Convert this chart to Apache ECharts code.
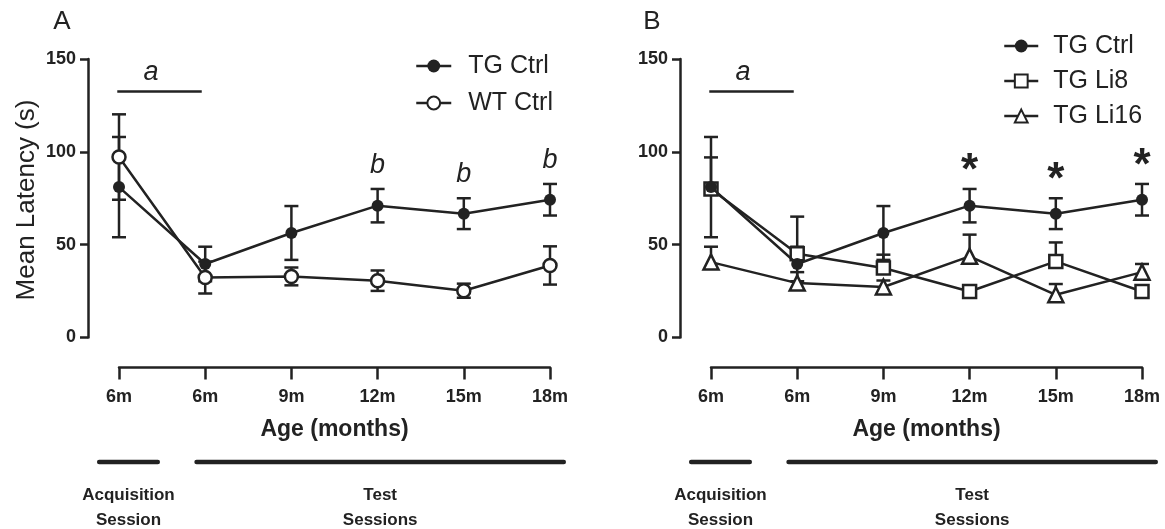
<!DOCTYPE html>
<html>
<head>
<meta charset="utf-8">
<script src="https://cdn.jsdelivr.net/npm/echarts@6/dist/echarts.min.js"></script>
<style>
  html, body { margin: 0; padding: 0; background: #ffffff; }
  #chart { width: 1165px; height: 529px; }
</style>
</head>
<body>
<div id="chart"></div>
<script>
// Age at testing (category index 0 = acquisition session, 1..5 = test sessions)
const ageLabels = ['6m', '6m', '9m', '12m', '15m', '18m'];
const yTicks = [0, 50, 100, 150];

// Mean latency (s) and SEM per group
const tgCtrl     = [81.0, 39.6, 56.3, 71.0, 66.7, 74.2];
const tgCtrlErr  = [27.0, 9.3, 14.5, 9.0, 8.3, 8.5];
const wtCtrl     = [97.2, 32.3, 32.9, 30.6, 25.2, 38.8];
const wtCtrlErr  = [23.0, 8.6, 4.8, 5.5, 3.8, 10.3];
const tgLi8      = [80.0, 45.1, 37.4, 24.8, 41.0, 24.8];
const tgLi8Err   = [17.0, 20.0, 7.2, 2.0, 10.2, 2.0];
const tgLi16     = [40.6, 29.3, 27.2, 43.7, 23.0, 35.2];
const tgLi16Err  = [8.3, 5.9, 3.5, 11.7, 5.8, 4.4];

// Significance marks over TG Ctrl
const markedAges = [3, 4, 5];

const INK = '#222222';
const FONT = "'Liberation Sans', Arial, Helvetica, sans-serif";

const chart = echarts.init(document.getElementById('chart'), null, { renderer: 'canvas' });

function grid(left) {
  return { left: left, width: 431, top: 59, height: 278.5, containLabel: false };
}

function xAxis(gridIndex) {
  return {
    type: 'value', gridIndex, min: 0, max: ageLabels.length - 1, interval: 1,
    position: 'bottom', offset: 30,
    axisLine: { show: true, onZero: false, lineStyle: { color: INK, width: 2.5 } },
    axisTick: { show: true, inside: false, length: 12, lineStyle: { color: INK, width: 2.5 } },
    axisLabel: {
      show: true, margin: 21, color: INK, fontFamily: FONT, fontWeight: 'bold', fontSize: 18,
      formatter: v => ageLabels[v] || ''
    },
    splitLine: { show: false },
    name: 'Age (months)', nameLocation: 'middle', nameGap: 51,
    nameTextStyle: { color: INK, fontFamily: FONT, fontWeight: 'bold', fontSize: 23 }
  };
}

function yAxis(gridIndex) {
  return {
    type: 'value', gridIndex, min: yTicks[0], max: yTicks[yTicks.length - 1], interval: 50,
    position: 'left', offset: 31,
    axisLine: { show: true, onZero: false, lineStyle: { color: INK, width: 2.5 } },
    axisTick: { show: true, inside: false, length: 8, lineStyle: { color: INK, width: 2.5 } },
    axisLabel: { show: true, margin: 12, color: INK, fontFamily: FONT, fontWeight: 'bold', fontSize: 18 },
    splitLine: { show: false }
  };
}

// Vertical SEM whiskers with caps; one-sided bars only extend upward
function errorBars(means, errs, twoSided, axisIndex) {
  return {
    type: 'custom', xAxisIndex: axisIndex, yAxisIndex: axisIndex, silent: true, z: 2,
    data: means.map((m, i) => [i, twoSided ? m - errs[i] : m, m + errs[i], twoSided ? 1 : 0]),
    renderItem(params, api) {
      const x = api.value(0);
      const top = api.coord([x, api.value(2)]);
      const bot = api.coord([x, api.value(1)]);
      const cap = 7;
      const st = { stroke: INK, lineWidth: 2.5 };
      const children = [
        { type: 'line', shape: { x1: top[0], y1: top[1], x2: bot[0], y2: bot[1] }, style: st },
        { type: 'line', shape: { x1: top[0] - cap, y1: top[1], x2: top[0] + cap, y2: top[1] }, style: st }
      ];
      if (api.value(3)) {
        children.push({ type: 'line', shape: { x1: bot[0] - cap, y1: bot[1], x2: bot[0] + cap, y2: bot[1] }, style: st });
      }
      return { type: 'group', children };
    }
  };
}

function lineSeries(name, values, symbol, size, open, axisIndex, z) {
  return {
    type: 'line', name, xAxisIndex: axisIndex, yAxisIndex: axisIndex, z,
    data: values.map((v, i) => [i, v]),
    symbol, symbolSize: size, showSymbol: true,
    lineStyle: { color: INK, width: 2.5 },
    itemStyle: open
      ? { color: '#ffffff', borderColor: INK, borderWidth: 2.5 }
      : { color: INK, borderColor: INK, borderWidth: 0 },
    emphasis: { disabled: true }
  };
}

const plainItem = { opacity: 1, color: INK };

// Horizontal bar with letter over the acquisition-to-first-test interval
function acquisitionMark(axisIndex) {
  return [
    {
      type: 'line', xAxisIndex: axisIndex, yAxisIndex: axisIndex, silent: true, z: 1,
      data: [[-0.02, 132.5], [0.96, 132.5]], symbol: 'none',
      lineStyle: { color: INK, width: 2.5 }
    },
    {
      type: 'scatter', xAxisIndex: axisIndex, yAxisIndex: axisIndex, silent: true,
      data: [[0.37, 132.5]], symbolSize: 0, itemStyle: plainItem,
      label: {
        show: true, position: 'top', distance: 6, formatter: 'a', opacity: 1,
        color: INK, fontFamily: FONT, fontStyle: 'italic', fontSize: 27, lineHeight: 27
      }
    }
  ];
}

function sigLabels(text, axisIndex, style) {
  return {
    type: 'scatter', xAxisIndex: axisIndex, yAxisIndex: axisIndex, silent: true,
    data: markedAges.map(i => [i, tgCtrl[i] + tgCtrlErr[i]]), symbolSize: 0, itemStyle: plainItem,
    label: Object.assign({ show: true, position: 'top', formatter: text, color: INK, opacity: 1, fontFamily: FONT }, style)
  };
}

const legendText = { color: INK, fontFamily: FONT, fontSize: 25, lineHeight: 26 };
const legendLine = { color: INK, width: 2.5, inactiveWidth: 2.5 };

const option = {
  animation: false,
  backgroundColor: '#ffffff',
  grid: [grid(119), grid(711)],
  xAxis: [xAxis(0), xAxis(1)],
  yAxis: [yAxis(0), yAxis(1)],
  legend: [
    {
      data: ['TG Ctrl', 'WT Ctrl'], orient: 'vertical', left: 410, top: 48,
      itemWidth: 35, itemHeight: 16, itemGap: 11, selectedMode: false,
      lineStyle: legendLine,
      textStyle: Object.assign({ padding: [0, 0, 0, 12] }, legendText)
    },
    {
      data: ['TG Ctrl', 'TG Li8', 'TG Li16'], orient: 'vertical', left: 998, top: 28,
      itemWidth: 34, itemHeight: 16, itemGap: 9, selectedMode: false,
      lineStyle: legendLine,
      textStyle: Object.assign({ padding: [0, 0, 0, 10] }, legendText)
    }
  ],
  series: [
    // Panel A
    errorBars(wtCtrl, wtCtrlErr, true, 0),
    errorBars(tgCtrl, tgCtrlErr, true, 0),
    lineSeries('WT Ctrl', wtCtrl, 'circle', 13, true, 0, 3),
    lineSeries('TG Ctrl', tgCtrl, 'circle', 12, false, 0, 4),
    ...acquisitionMark(0),
    sigLabels('b', 0, { fontStyle: 'italic', fontSize: 27, lineHeight: 27, distance: 10 }),
    // Panel B
    errorBars(tgLi16, tgLi16Err, false, 1),
    errorBars(tgLi8, tgLi8Err, false, 1),
    errorBars(tgCtrl, tgCtrlErr, true, 1),
    lineSeries('TG Li16', tgLi16, 'triangle', 15, true, 1, 3),
    lineSeries('TG Li8', tgLi8, 'rect', 13, true, 1, 4),
    lineSeries('TG Ctrl', tgCtrl, 'circle', 12, false, 1, 5),
    ...acquisitionMark(1),
    sigLabels('*', 1, { fontWeight: 'bold', fontSize: 44, lineHeight: 44, distance: -5 })
  ]
};

chart.setOption(option);

// Session brackets under each x axis, in category units
const sessions = [
  { from: -0.23, to: 0.45, lines: ['Acquisition', 'Session'] },
  { from: 0.90, to: 5.16, lines: ['Test', 'Sessions'] }
];

const graphics = [
  {
    type: 'text', x: 27, y: 200, rotation: Math.PI / 2,
    style: { text: 'Mean Latency (s)', fill: INK, font: '26px ' + FONT, textAlign: 'center', textVerticalAlign: 'middle' }
  },
  { type: 'text', x: 62, y: 22, style: { text: 'A', fill: INK, font: '26px ' + FONT, textAlign: 'center', textVerticalAlign: 'middle' } },
  { type: 'text', x: 652, y: 22, style: { text: 'B', fill: INK, font: '26px ' + FONT, textAlign: 'center', textVerticalAlign: 'middle' } }
];

[0, 1].forEach(k => {
  sessions.forEach(s => {
    const x1 = chart.convertToPixel({ xAxisIndex: k }, s.from);
    const x2 = chart.convertToPixel({ xAxisIndex: k }, s.to);
    const cx = (x1 + x2) / 2;
    graphics.push({
      type: 'line', shape: { x1, y1: 462, x2, y2: 462 },
      style: { stroke: INK, lineWidth: 4.5, lineCap: 'round' }
    });
    s.lines.forEach((t, j) => {
      graphics.push({
        type: 'text', x: cx, y: 495 + j * 25,
        style: { text: t, fill: INK, font: 'bold 17px ' + FONT, textAlign: 'center', textVerticalAlign: 'middle' }
      });
    });
  });
});

chart.setOption({ graphic: graphics });
</script>
</body>
</html>
